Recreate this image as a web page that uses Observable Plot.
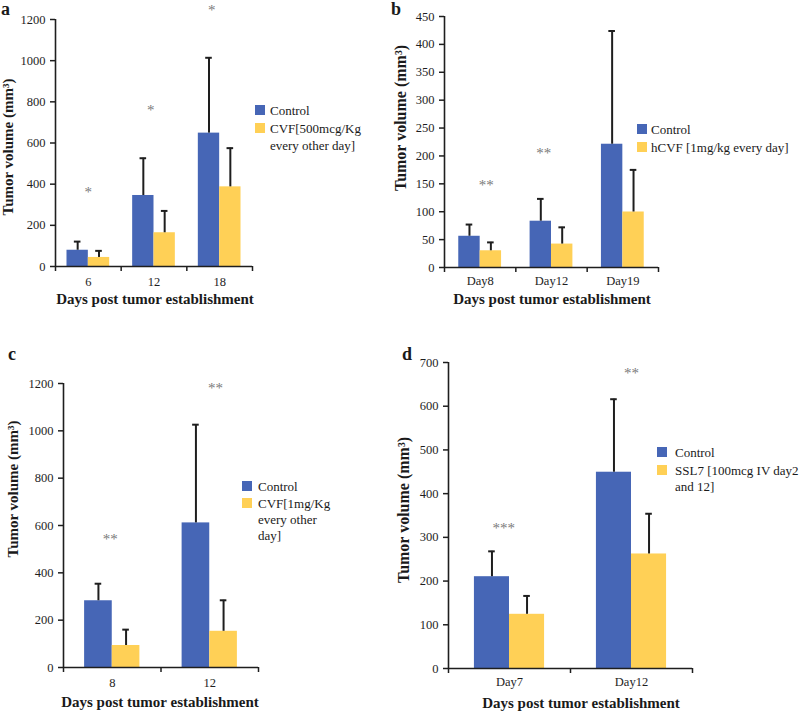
<!DOCTYPE html>
<html><head><meta charset="utf-8">
<script src="https://cdn.jsdelivr.net/npm/d3@7"></script>
<script src="https://cdn.jsdelivr.net/npm/@observablehq/plot@0.6"></script>
<style>
body{margin:0;background:#fff}
#fig{position:relative;width:800px;height:712px;font-family:"Liberation Serif","Times New Roman",serif;color:#1a1a1a;overflow:hidden;background:#fff}
#fig svg{position:absolute}
.t{position:absolute;white-space:nowrap;line-height:1;transform:translateY(-50%)}
.c{position:absolute;white-space:nowrap;line-height:1;transform:translate(-50%,-50%)}
.r{position:absolute;white-space:nowrap;line-height:1;font-weight:bold;transform:translate(-50%,-50%) rotate(-90deg)}
.sw{position:absolute;width:10px;height:10px}
</style></head><body><div id="fig"></div><script>
// ---------- data ----------
// panel a
const aDays = ["6", "12", "18"];
const aControl = [79, 345, 648];
const aControlUpper = [121, 526, 1014];
const aTreat = [44, 164, 387];
const aTreatUpper = [76, 270, 575];
const aStars = ["*", "*", "*"];
const aStarY = [376, 772, 1261];
const aStarX = [0.50, 1.45, 2.38];
const aYTicks = [0, 200, 400, 600, 800, 1000, 1200];
const aLegend = [["Control"], ["CVF[500mcg/Kg", "every other day]"]];
// panel b
const bDays = ["Day8", "Day12", "Day19"];
const bControl = [56, 83, 221];
const bControlUpper = [77, 123, 424];
const bTreat = [30, 42, 99.5];
const bTreatUpper = [45, 72, 175];
const bStars = ["**", "**"];
const bStarY = [153, 210];
const bStarX = [0.585, 1.39];
const bYTicks = [0, 50, 100, 150, 200, 250, 300, 350, 400, 450];
const bLegend = [["Control"], ["hCVF [1mg/kg every day]"]];
// panel c
const cDays = ["8", "12"];
const cControl = [282, 611];
const cControlUpper = [354, 1026];
const cTreat = [93, 153];
const cTreatUpper = [160, 284];
const cStars = ["**", "**"];
const cStarY = [555, 1193];
const cStarX = [0.48, 1.56];
const cYTicks = [0, 200, 400, 600, 800, 1000, 1200];
const cLegend = [["Control"], ["CVF[1mg/Kg", "every other", "day]"]];
// panel d
const dDays = ["Day7", "Day12"];
const dControl = [210, 449];
const dControlUpper = [268, 616];
const dTreat = [124, 262];
const dTreatUpper = [166, 354];
const dStars = ["***", "**"];
const dStarY = [328, 683];
const dStarX = [0.452, 1.50];
const dYTicks = [0, 100, 200, 300, 400, 500, 600, 700];
const dLegend = [["Control"], ["SSL7 [100mcg IV day2", "and 12]"]];

const xTitle = "Days post tumor establishment";
const yTitle = "Tumor volume (mm³)";

// ---------- style ----------
const BLUE = "#4666b6";
const YELLOW = "#ffd056";
const INK = "#1e1e1e";
const fig = document.getElementById("fig");

function addDiv(cls, html, left, top, css = "") {
  const el = document.createElement("div");
  el.className = cls;
  el.innerHTML = html;
  el.style.cssText += `left:${left}px;top:${top}px;${css}`;
  fig.appendChild(el);
  return el;
}

function drawPanel(p) {
  const n = p.days.length;
  const rows = p.days.flatMap((d, i) => [
    {i, s: 0, value: p.control[i], upper: p.controlUpper[i]},
    {i, s: 1, value: p.treat[i], upper: p.treatUpper[i]}
  ]);
  const g = p.group;
  const left = d => d.i + (1 - g) / 2 + d.s * g / 2;
  const right = d => left(d) + g / 2;
  const mid = d => left(d) + g / 4;
  const bandPx = (p.width - p.ml - p.mr) / n;
  const cap = 3.3 / bandPx;
  const yMax = p.yTicks[p.yTicks.length - 1];
  const stars = p.stars.map((t, k) => ({t, x: p.starX[k], y: p.starY[k]}));
  const chart = Plot.plot({
    width: p.width, height: p.height,
    marginLeft: p.ml, marginRight: p.mr, marginTop: p.mt, marginBottom: p.mb,
    style: {fontFamily: '"Liberation Serif", serif', fontSize: "12.5px", background: "transparent", overflow: "visible", color: INK},
    x: {domain: [0, n], label: null},
    y: {domain: [0, yMax], label: null},
    marks: [
      Plot.rect(rows.filter(d => d.s === 0), {x1: left, x2: right, y1: 0, y2: "value", fill: BLUE}),
      Plot.rect(rows.filter(d => d.s === 1), {x1: left, x2: right, y1: 0, y2: "value", fill: YELLOW}),
      Plot.ruleX(rows, {x: mid, y1: "value", y2: "upper", stroke: INK, strokeWidth: 2}),
      Plot.ruleY(rows, {y: "upper", x1: d => mid(d) - cap, x2: d => mid(d) + cap, stroke: INK, strokeWidth: 2}),
      Plot.ruleX([0], {y1: 0, y2: yMax, stroke: INK, strokeWidth: 1.6}),
      Plot.ruleY([0], {x1: 0, x2: n, stroke: INK, strokeWidth: 1.6}),
      Plot.axisY({ticks: p.yTicks, tickSize: 5, tickPadding: 5, strokeWidth: 1.5, stroke: INK, tickFormat: d => String(d), label: null}),
      Plot.axisX({ticks: d3.range(n + 1), tickSize: 5, strokeWidth: 1.5, stroke: INK, tickFormat: () => "", label: null}),
      Plot.axisX({ticks: d3.range(n).map(i => i + 0.5), tickSize: 0, tickPadding: p.xpad, tickFormat: v => p.days[Math.floor(v)], label: null}),
      Plot.text(stars, {x: "x", y: "y", text: "t", fill: "#7a7a7a", fontSize: 15, dy: 3})
    ]
  });
  chart.style.left = p.left + "px";
  chart.style.top = p.top + "px";
  fig.appendChild(chart);

  // panel letter, axis titles
  addDiv("t", p.letter, p.letterX, p.letterY, "font-weight:bold;font-size:18px");
  addDiv("r", yTitle, p.yTitleX, p.yTitleY, `font-size:${p.yTitleSize}px`);
  addDiv("c", xTitle, p.xTitleX, p.xTitleY, "font-weight:bold;font-size:15px");

  // legend
  const cols = [BLUE, YELLOW];
  p.legend.forEach((lines, k) => {
    const top = p.legTop[k];
    addDiv("sw", "", p.legX, top, `background:${cols[k]}`);
    lines.forEach((ln, j) => addDiv("t", ln, p.legX + p.legGap, top + 5 + j * p.legLine, "font-size:13px"));
  });
}

drawPanel({letter: "a", days: aDays, control: aControl, controlUpper: aControlUpper, treat: aTreat, treatUpper: aTreatUpper,
  stars: aStars, starY: aStarY, starX: aStarX, yTicks: aYTicks, legend: aLegend,
  left: 0, top: 0, width: 262, height: 290, ml: 55, mr: 10, mt: 19, mb: 24, group: 0.65, xpad: 11,
  letterX: 1, letterY: 9, yTitleX: 8, yTitleY: 147, yTitleSize: 15, xTitleX: 155, xTitleY: 299,
  legX: 255, legTop: [105, 123], legGap: 15, legLine: 17});

drawPanel({letter: "b", days: bDays, control: bControl, controlUpper: bControlUpper, treat: bTreat, treatUpper: bTreatUpper,
  stars: bStars, starY: bStarY, starX: bStarX, yTicks: bYTicks, legend: bLegend,
  left: 400, top: 0, width: 268, height: 291, ml: 44, mr: 10, mt: 16, mb: 24, group: 0.6, xpad: 8.5,
  letterX: 391, letterY: 9, yTitleX: 401, yTitleY: 118, yTitleSize: 16, xTitleX: 552, xTitleY: 299,
  legX: 637, legTop: [124, 142], legGap: 14, legLine: 17});

drawPanel({letter: "c", days: cDays, control: cControl, controlUpper: cControlUpper, treat: cTreat, treatUpper: cTreatUpper,
  stars: cStars, starY: cStarY, starX: cStarX, yTicks: cYTicks, legend: cLegend,
  left: 0, top: 340, width: 268, height: 351, ml: 63, mr: 10, mt: 43, mb: 24, group: 0.567, xpad: 11,
  letterX: 8, letterY: 354, yTitleX: 13, yTitleY: 489, yTitleSize: 15, xTitleX: 160, xTitleY: 702,
  legX: 242, legTop: [481, 498], legGap: 16, legLine: 16});

drawPanel({letter: "d", days: dDays, control: dControl, controlUpper: dControlUpper, treat: dTreat, treatUpper: dTreatUpper,
  stars: dStars, starY: dStarY, starX: dStarX, yTicks: dYTicks, legend: dLegend,
  left: 400, top: 340, width: 302, height: 352, ml: 48, mr: 10, mt: 22, mb: 24, group: 0.575, xpad: 9,
  letterX: 402, letterY: 354, yTitleX: 404, yTitleY: 510, yTitleSize: 16, xTitleX: 581, xTitleY: 703,
  legX: 657, legTop: [447, 465], legGap: 18, legLine: 16});
</script></body></html>
